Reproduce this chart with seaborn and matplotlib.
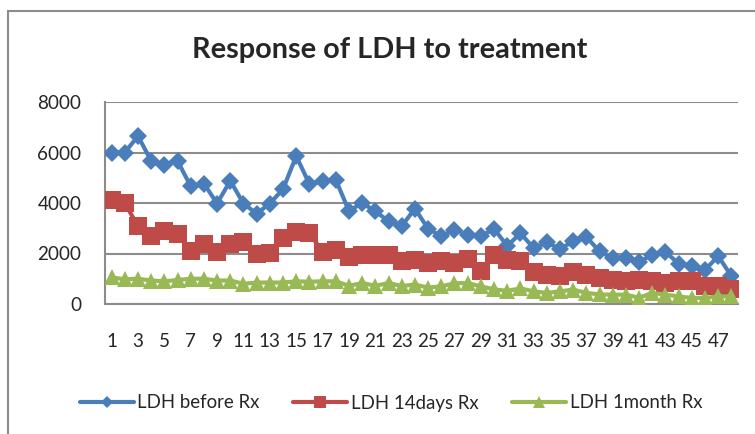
import matplotlib
matplotlib.use("Agg")
import matplotlib.pyplot as plt
import seaborn as sns
import pandas as pd
import numpy as np
from matplotlib.patches import Rectangle
from matplotlib.lines import Line2D

days = list(range(1, 49))
ldh_before = [6000, 6000, 6650, 5670, 5520, 5670, 4660, 4770, 3980, 4880,
              3980, 3580, 3980, 4550, 5860, 4750, 4860, 4920, 3680, 4000,
              3670, 3280, 3080, 3780, 2980, 2680, 2950, 2750, 2680, 2980,
              2300, 2800, 2220, 2440, 2180, 2480, 2660, 2080, 1810, 1810,
              1680, 1930, 2060, 1600, 1520, 1350, 1900, 1100]
ldh_14days = [4130, 4000, 3080, 2680, 2900, 2780, 2080, 2380, 2050, 2380,
              2450, 1970, 2020, 2600, 2870, 2800, 2070, 2120, 1880, 1950,
              1960, 1960, 1690, 1760, 1620, 1690, 1640, 1770, 1290, 1960,
              1750, 1690, 1280, 1160, 1090, 1280, 1150, 1030, 960, 900,
              960, 900, 830, 900, 900, 700, 700, 580]
ldh_1month = [1050, 980, 1000, 930, 900, 950, 1000, 1000, 930, 930,
              800, 850, 850, 850, 900, 880, 900, 900, 720, 830,
              720, 830, 710, 770, 650, 700, 820, 830, 700, 580,
              520, 620, 500, 440, 500, 570, 440, 380, 370, 370,
              250, 440, 370, 300, 240, 240, 300, 300]
series_names = ["LDH before Rx", "LDH 14days Rx", "LDH 1month Rx"]
y_ticks = [0, 2000, 4000, 6000, 8000]
x_labels = [str(d) for d in range(1, 49, 2)]

colors = ["#4A7EBB", "#BE4B48", "#98B954"]
markers = ["D", "s", "^"]
msizes = [9, 13, 12]

df = pd.DataFrame({"day": days * 3,
                   "LDH": ldh_before + ldh_14days + ldh_1month,
                   "series": sum([[n] * 48 for n in series_names], [])})

sns.set_style("white")
plt.rcParams['font.family'] = ['Lato', 'DejaVu Sans']

fig = plt.figure(figsize=(7.55, 4.34), dpi=100)
ax = fig.add_axes([105/755, 1 - 304/434, (738-105)/755, (304-102)/434])

for name, c, m, ms in zip(series_names, colors, markers, msizes):
    sub = df[df["series"] == name]
    sns.lineplot(data=sub, x="day", y="LDH", ax=ax, color=c, marker=m,
                 markersize=ms, markeredgewidth=0, linewidth=3, legend=False,
                 zorder=3)

ax.set_xlim(0.5, 48.5)
ax.set_ylim(0, 8000)
ax.set_yticks(y_ticks)
ax.set_yticklabels([str(v) for v in y_ticks], fontsize=13.6)
ax.set_xticks(list(range(1, 49, 2)))
ax.set_xticklabels(x_labels, fontsize=13.6)
ax.tick_params(axis='x', length=0, pad=21)
ax.tick_params(axis='y', length=0, pad=17)
ax.set_xlabel("")
ax.set_ylabel("")
ax.grid(axis='y', color="#8C8C8C", linewidth=1.5, zorder=0)
ax.grid(axis='x', visible=False)
for s in ["top", "right"]:
    ax.spines[s].set_visible(False)
for s in ["left", "bottom"]:
    ax.spines[s].set_color("#8C8C8C")
    ax.spines[s].set_linewidth(1.5)
ax.set_axisbelow(True)

fig.text(389.5/755, 1 - 50/434, "Response of LDH to treatment", fontsize=20.8,
         fontweight="bold", ha="center", va="center")

handles = [Line2D([0], [0], color=c, marker=m, markersize=ms * 0.7,
                  markeredgewidth=0, linewidth=3)
           for c, m, ms in zip(colors, markers, msizes)]
fig.legend(handles, series_names, loc="center", bbox_to_anchor=(391/755, 1 - 403/434),
           ncol=3, frameon=False, fontsize=13.4, handlelength=2.9,
           handletextpad=0.2, columnspacing=1.8)

fig.patches.append(Rectangle((8/755, -0.2), 1.2, 1 - 11/434 + 0.2,
                             transform=fig.transFigure, fill=False,
                             edgecolor="#8C8C8C", linewidth=1.5))

fig.savefig("out.png", dpi=100)
